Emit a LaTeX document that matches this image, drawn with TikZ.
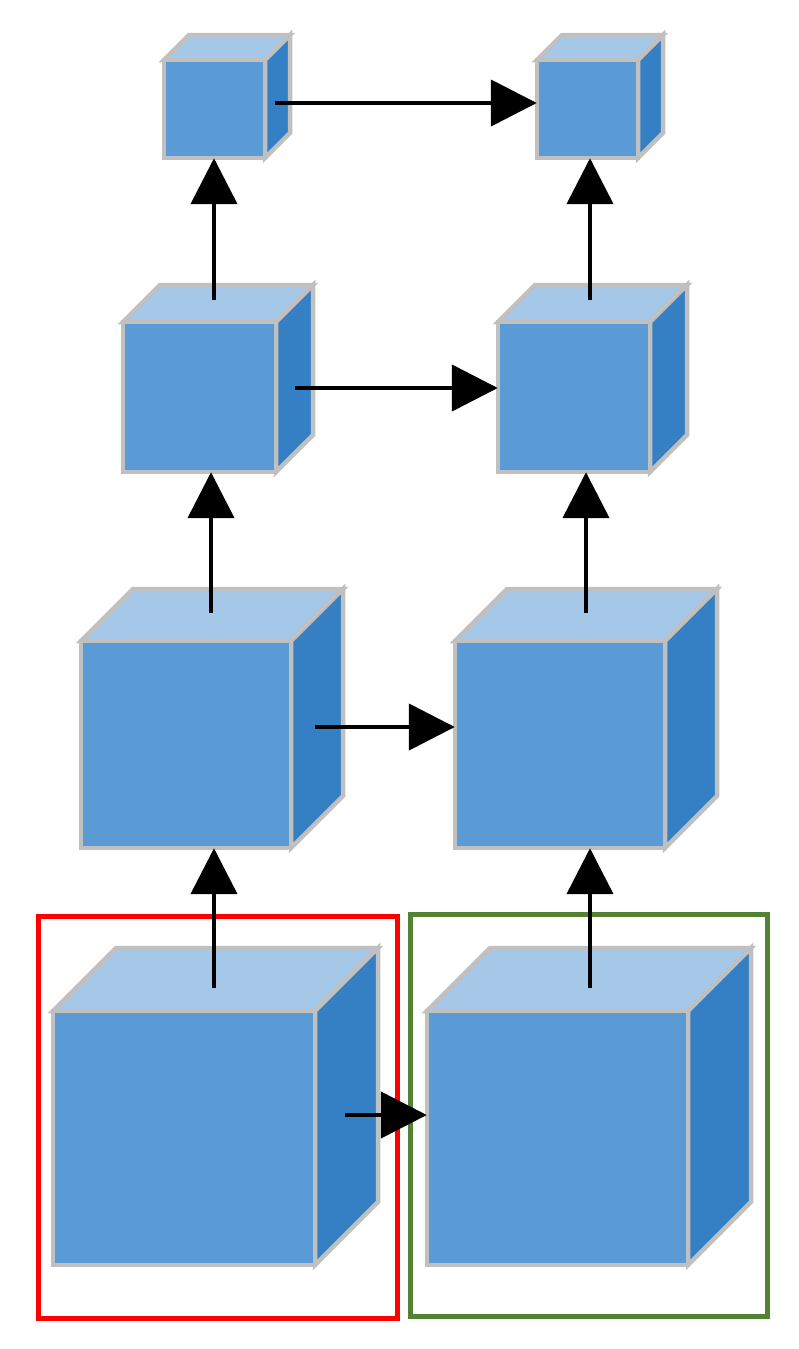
\documentclass[tikz,border=0pt]{standalone}
\usetikzlibrary{arrows.meta}
\definecolor{cfront}{HTML}{5B9BD5}
\definecolor{ctop}{HTML}{A6C8E8}
\definecolor{cside}{HTML}{3580C5}
\definecolor{cedge}{HTML}{C0C0C0}
\definecolor{cgreen}{HTML}{548235}
\newcommand{\mycube}[6]{% name x1 y1 x2 y2 d
  \draw[edge,fill=ctop] (#2,#3)--(#2+#6,#3-#6)--(#4+#6,#3-#6)--(#4,#3)--cycle;
  \draw[edge,fill=cside] (#4,#3)--(#4+#6,#3-#6)--(#4+#6,#5-#6)--(#4,#5)--cycle;
  \draw[edge,fill=cfront] (#2,#3) rectangle (#4,#5);
  \node[inner sep=0,minimum width={(#4-#2)*1pt},minimum height={(#5-#3)*1pt}] (#1) at ({(#2+#4)/2},{(#3+#5)/2}) {};
}
\begin{document}
\begin{tikzpicture}[x=1pt,y=-1pt,
  edge/.style={draw=cedge,line width=4.5pt,line join=miter},
  arr/.style={line width=4.5pt,-{Triangle[length=46pt,width=46pt]}},
  box/.style={line width=5pt}]
\useasboundingbox (0,0) rectangle (799,1349);
\mycube{a1}{164}{60}{265}{158}{25}
\mycube{b1}{537}{60}{638}{158}{25}
\mycube{a2}{123}{322}{276}{472}{37}
\mycube{b2}{498}{322}{650}{472}{37}
\mycube{a3}{81}{641}{291}{848}{52}
\mycube{b3}{455}{641}{665}{848}{52}
\mycube{a4}{53}{1011}{315}{1265}{63}
\mycube{b4}{427}{1011}{688}{1265}{63}
\draw[box,red] (38,916) rectangle (397,1318);
\draw[box,cgreen] (410,914) rectangle (767,1316);
\coordinate (h1) at (275,103);
\coordinate (h2) at (295,388);
\coordinate (h3) at (315,727);
\coordinate (h4) at (345,1115);
\coordinate (va2) at (214,300);
\coordinate (vb2) at (590,300);
\coordinate (va3) at (211,613);
\coordinate (vb3) at (586,613);
\coordinate (va4) at (214,988);
\coordinate (vb4) at (590,988);
\draw[arr] (h1) -- (h1 -| b1.west);
\draw[arr] (h2) -- (h2 -| b2.west);
\draw[arr] (h3) -- (h3 -| b3.west);
\draw[arr] (h4) -- (h4 -| b4.west);
\draw[arr] (va2) -- (va2 |- a1.south);
\draw[arr] (vb2) -- (vb2 |- b1.south);
\draw[arr] (va3) -- (va3 |- a2.south);
\draw[arr] (vb3) -- (vb3 |- b2.south);
\draw[arr] (va4) -- (va4 |- a3.south);
\draw[arr] (vb4) -- (vb4 |- b3.south);
\end{tikzpicture}
\end{document}
